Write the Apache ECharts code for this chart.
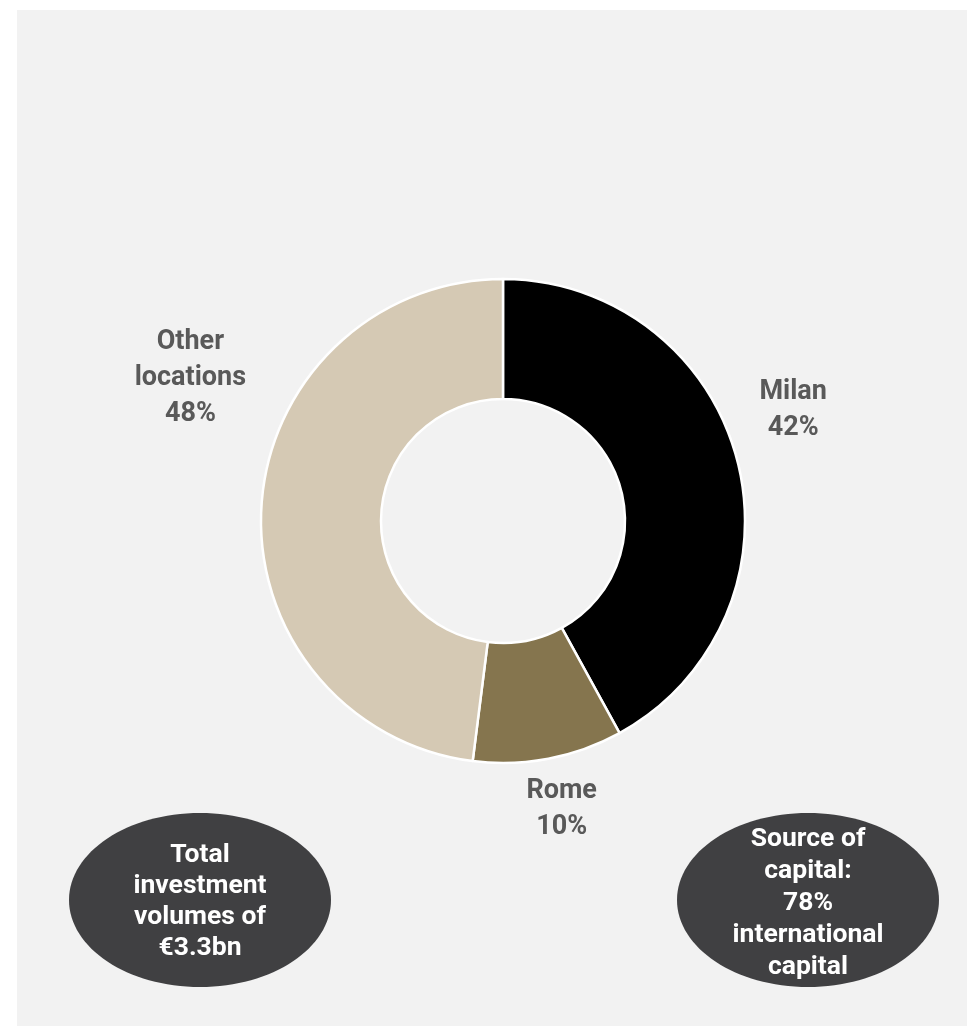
<!DOCTYPE html>
<html>
<head>
<meta charset="utf-8">
<script src="https://cdn.jsdelivr.net/npm/echarts@6/dist/echarts.min.js"></script>
<style>
html,body{margin:0;padding:0;background:#ffffff;}
#chart{position:absolute;left:17px;top:10px;width:950px;height:1016px;background:#f2f2f2;}
</style>
</head>
<body>
<div id="chart"></div>
<script>
const categories = ['Milan', 'Rome', 'Other locations'];
const shares = [42, 10, 48];
const sliceColors = ['#000000', '#85754e', '#d5c9b4'];
const noteLeft = ['Total', 'investment', 'volumes of', '€3.3bn'];
const noteRight = ['Source of', 'capital:', '78%', 'international', 'capital'];

const labelOffsets = [[111, -65], [24, 107], [-128, -131]];

const chart = echarts.init(document.getElementById('chart'), null, {renderer: 'canvas'});
const option = {
  backgroundColor: '#f2f2f2',
  animation: false,
  series: [{
    type: 'pie',
    center: [486, 511],
    radius: [122, 242],
    startAngle: 90,
    clockwise: true,
    itemStyle: {borderColor: '#ffffff', borderWidth: 2.5},
    label: {
      position: 'inside',
      formatter: p => p.name.replace(' ', '\n') + '\n' + p.value + '%',
      color: '#595959',
      fontFamily: 'Roboto',
      fontWeight: 'bold',
      fontSize: 27,
      lineHeight: 36,
      align: 'center'
    },
    labelLine: {show: false},
    emphasis: {disabled: true},
    data: categories.map((c, i) => ({
      name: c,
      value: shares[i],
      itemStyle: {color: sliceColors[i]},
      label: {offset: labelOffsets[i]}
    }))
  }],
  graphic: [
    {type: 'ellipse', shape: {cx: 183, cy: 890, rx: 131, ry: 87}, style: {fill: '#404042'}},
    {type: 'ellipse', shape: {cx: 791, cy: 890, rx: 131, ry: 87}, style: {fill: '#404042'}},
    {type: 'text', x: 183, y: 892, style: {text: noteLeft.join('\n'), fill: '#ffffff', font: 'bold 26.5px Roboto', lineHeight: 31, align: 'center', verticalAlign: 'middle'}},
    {type: 'text', x: 791, y: 893, style: {text: noteRight.join('\n'), fill: '#ffffff', font: 'bold 26.5px Roboto', lineHeight: 32, align: 'center', verticalAlign: 'middle'}}
  ]
};
chart.setOption(option);
</script>
</body>
</html>
